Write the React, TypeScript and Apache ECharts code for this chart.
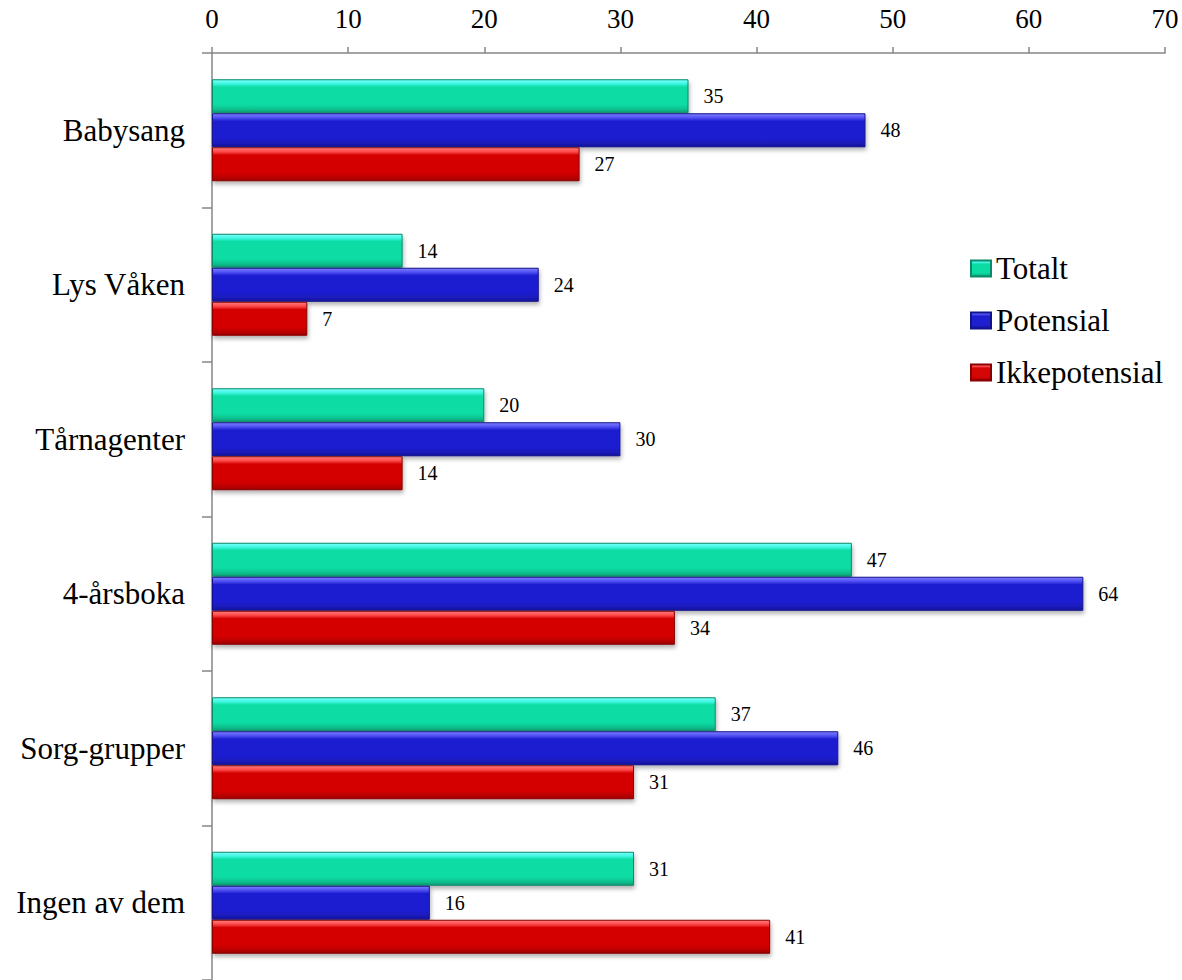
import React, { useEffect, useRef } from "react";
import * as echarts from "echarts";

const categories = ["Babysang", "Lys Våken", "Tårnagenter", "4-årsboka", "Sorg-grupper", "Ingen av dem"];
const totalt = [35, 14, 20, 47, 37, 31];
const potensial = [48, 24, 30, 64, 46, 16];
const ikkepotensial = [27, 7, 14, 34, 31, 41];
const seriesNames = ["Totalt", "Potensial", "Ikkepotensial"];
const xTicks = { min: 0, max: 70, interval: 10 };

const FONT = "Liberation Serif, Times New Roman, serif";

function grad(top: string, hi: string, mid: string, low: string, bottom: string) {
  return new echarts.graphic.LinearGradient(0, 0, 0, 1, [
    { offset: 0, color: top },
    { offset: 0.12, color: hi },
    { offset: 0.22, color: mid },
    { offset: 0.75, color: mid },
    { offset: 0.9, color: low },
    { offset: 1, color: bottom },
  ]);
}

export default function App() {
  const ref = useRef<HTMLDivElement>(null);
  useEffect(() => {
    document.body.style.margin = "0";
    const chart = echarts.init(ref.current!, undefined, { renderer: "svg" });
    const mk = (name: string, data: number[], c: any, border: string) => ({
      name,
      type: "bar",
      data,
      barWidth: 34,
      barGap: "0%",
      itemStyle: {
        color: c,
        borderColor: border,
        borderWidth: 1,
        shadowBlur: 4,
        shadowOffsetY: 3,
        shadowOffsetX: 1,
        shadowColor: "rgba(0,0,0,0.3)",
      },
      label: {
        show: true,
        position: "right",
        distance: 15,
        fontFamily: FONT,
        fontSize: 20,
        color: "#000",
      },
    });
    chart.setOption({
      animation: false,
      backgroundColor: "#fff",
      grid: { left: 212, right: 17, top: 53, height: 930, containLabel: false },
      legend: {
        orient: "vertical",
        left: 965,
        top: 248,
        itemWidth: 20,
        itemHeight: 16,
        itemGap: 21,
        icon: "rect",
        textStyle: { fontFamily: FONT, fontSize: 31, color: "#000", lineHeight: 31 },
        data: seriesNames,
      },
      xAxis: {
        type: "value",
        position: "top",
        min: xTicks.min,
        max: xTicks.max,
        interval: xTicks.interval,
        axisLine: { show: true, lineStyle: { color: "#868686", width: 1.5 } },
        axisTick: { show: true, length: 6, lineStyle: { color: "#868686", width: 1.5 } },
        axisLabel: { fontFamily: FONT, fontSize: 27, color: "#000", margin: 21 },
        splitLine: { show: false },
      },
      yAxis: {
        type: "category",
        inverse: true,
        data: categories,
        axisLine: { show: true, lineStyle: { color: "#868686", width: 1.5 } },
        axisTick: { show: true, length: 10, lineStyle: { color: "#868686", width: 1.5 } },
        axisLabel: { fontFamily: FONT, fontSize: 31, color: "#000", margin: 27 },
      },
      series: [
        mk(seriesNames[0], totalt, grad("#7affff", "#3ff6e0", "#0bdca4", "#0bbf8c", "#0a9a72"), "#0a8a68"),
        mk(seriesNames[1], potensial, grad("#8080ff", "#5050f4", "#1f1fd0", "#1a1ab8", "#14149a"), "#12128a"),
        mk(seriesNames[2], ikkepotensial, grad("#ff8080", "#ff4848", "#d40606", "#bb0000", "#980000"), "#880000"),
      ],
    });
    return () => chart.dispose();
  }, []);
  return <div ref={ref} style={{ position: "absolute", left: 0, top: 0, width: 1182, height: 980 }} />;
}
